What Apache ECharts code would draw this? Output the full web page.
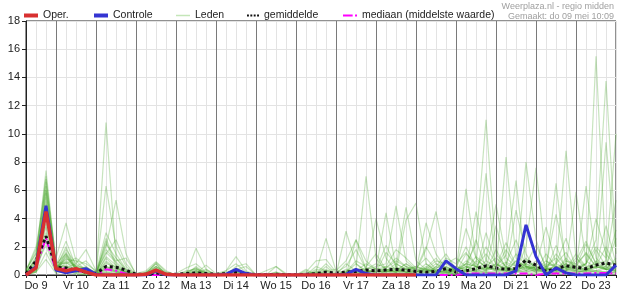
<!DOCTYPE html>
<html><head><meta charset="utf-8">
<script src="https://cdn.jsdelivr.net/npm/echarts@6/dist/echarts.min.js"></script>
<style>html,body{margin:0;padding:0;background:#fff}#c{width:626px;height:296px}</style>
</head><body><div id="c"></div>
<script>
const dayLabels = ['Do 9','Vr 10','Za 11','Zo 12','Ma 13','Di 14','Wo 15','Do 16','Vr 17','Za 18','Zo 19','Ma 20','Di 21','Wo 22','Do 23'];
const yTicks = [0,2,4,6,8,10,12,14,16,18];

// 6-hourly steps, index 0 = Do 9 06:00
const oper = [0,0.5,4.5, 0.45,0.3,0.45,0.2, 0,0,0,0, 0,0.05,0.35,0.05,
  0,0,0,0, 0,0,0,0, 0,0,0,0, 0,0,0,0,
  0,0,0,0, 0,0,0,0, 0];
const controle = [0,0.6,4.9, 0.35,0.15,0.3,0.45, 0.05,0,0,0, 0,0,0.3,0,
  0,0,0,0, 0,0.05,0.4,0.1, 0,0,0,0, 0,0,0,0,
  0,0.05,0.4,0.1, 0,0,0,0, 0,0,0,1.0, 0.45,0,0,0,
  0,0,0.3,3.55, 1.3,0,0.5,0.15, 0,0,0,0, 0.7];
const gemiddelde = [0.1,1.0,2.75, 0.55,0.5,0.35,0.2, 0.1,0.6,0.55,0.35, 0.05,0.05,0.15,0.05,
  0.05,0.1,0.15,0.1, 0.05,0.1,0.2,0.1, 0.02,0.02,0.05,0.02, 0.02,0.05,0.1,0.2,
  0.15,0.2,0.25,0.35, 0.3,0.35,0.4,0.35, 0.25,0.2,0.25,0.45, 0.2,0.3,0.45,0.65,
  0.5,0.4,0.45,1.05, 0.7,0.25,0.45,0.65, 0.55,0.45,0.7,0.85, 0.7];
const mediaan = [0,0.6,2.6, 0.3,0.5,0.3,0.2, 0,0.4,0.3,0.1, 0,0,0,0,
  0,0,0,0, 0,0,0,0, 0,0,0,0, 0,0,0,0,
  0,0,0,0, 0,0,0,0, 0,0,0,0, 0,0.1,0.1,0.1,
  0.1,0.1,0.1,0.1, 0,0.1,0.1,0.1, 0.1,0.1,0.15,0.15, 0.1];

const m01 = [0.1,1.2,7.4, 0.8,1.5,0.4,0.2, 0.1,10.8,1.2,0.3, 0,0,0.2,0,
  0,0,0.3,0, 0,0,0,0, 0,0,0,0, 0,0,0,0.2,
  0,0.4,0.2,0, 0,0.3,0.8,0.4, 0,0,0.6,1.5, 0.4,0.8,2.2,11.0,
  1.5,0.6,0.2,0.8, 2.1,0.6,0.3,1.2, 0.5,0.3,1.8,0.6, 0.2];
const m02 = [0.3,2.0,6.3, 1.2,3.7,1.0,0.3, 0.2,6.3,2.0,0.6, 0,0.1,0.9,0.2,
  0,0.2,0.5,0.1, 0,0.1,0.4,0, 0,0,0,0, 0,0,0.3,0.1,
  0,0,0.5,7.0, 1.2,0.3,0,0.5, 0.2,0.8,0.3,0, 0.5,2.0,0.6,0.3,
  1.8,0.5,0.2,8.0, 2.5,0.4,0.6,0.3, 1.0,2.4,0.8,0.4, 1.2];
const m03 = [0,0.5,5.8, 0.6,1.8,0.8,1.8, 0.3,2.0,5.3,1.5, 0,0,0.6,0.1,
  0,0,1.9,0.4, 0,0.3,1.3,0.3, 0,0,0.2,0, 0,0,0,0.4,
  0,3.1,0.8,0.2, 0,0.5,1.2,0.6, 0.3,0,0.2,0.6, 0.2,6.1,1.2,0.5,
  0.3,0.8,2.5,0.6, 0.2,1.5,0.6,8.8, 1.2,0.4,0.6,2.0, 0.5];
const m04 = [0.2,0.8,4.6, 0.3,1.2,0.6,0.5, 0.2,3.0,1.5,0.4, 0,0.2,0.8,0,
  0.1,0.5,0.8,0.2, 0,0,0.6,0.8, 0,0.3,0.6,0.1, 0,0.1,0.2,2.6,
  0.3,1.0,2.5,1.0, 0.4,4.4,0.5,0.2, 0,0.5,1.2,0.3, 0,0.4,0.3,1.0,
  5.0,1.2,0.6,0.4, 0.6,0.3,6.5,0.5, 0.2,0.3,1.0,0.4, 0.3];
const m05 = [0,0.3,3.9, 0.5,2.0,0.3,0.6, 0,2.6,0.8,0.2, 0,0,0.5,0,
  0,0,0.2,0, 0,0,0.3,0, 0,0,0,0, 0,0.2,1.0,1.1,
  0.2,0.6,1.8,0.4, 4.0,1.2,0.3,0.8, 0.3,1.8,4.5,1.0, 0.2,1.5,0.8,7.2,
  0.4,0.2,1.0,0.6, 0.3,0.5,0.2,0.6, 5.9,1.0,0.5,0.8, 0.3];
const m06 = [0.4,1.5,7.0, 0.9,0.8,1.2,0.6, 0.1,2.4,0.6,0.1, 0,0,0.3,0,
  0,0,0.1,0.7, 0.1,0.3,0.8,0.2, 0,0,0,0, 0,0,0.6,0.3,
  0,0.2,0,0.4, 0.6,0.8,4.9,1.0, 0.4,0.2,0.5,0.8, 0.3,0.2,1.0,0.6,
  0.4,8.35,1.2,0.3, 0.8,0.4,1.5,0.6, 0.3,0.8,2.5,13.75, 2.0];
const m07 = [0,0.6,6.6, 0.5,1.0,0.6,1.0, 0.2,1.5,2.5,0.8, 0,0.1,0.6,0.2,
  0,0.3,0.4,0.2, 0,0,0.2,0, 0,0,0.6,0, 0,0,0.1,0.8,
  0.1,0,2.5,0.4, 0.2,0.3,0.6,4.8, 1.0,0.4,0.2,0.3, 0.6,0.3,4.5,1.0,
  0.6,1.4,6.7,0.5, 0.4,0.2,0.8,1.6, 0.4,6.3,1.2,0.5, 0.6];
const m08 = [0.1,0.2,2.8, 0.3,0.6,0.2,0.4, 0.1,1.8,1.0,1.2, 0.1,0.3,0.95,0.3,
  0,0,0.6,0.1, 0,0,0,0.2, 0,0,0,0, 0,0.4,0,0,
  0,0.2,1.0,0.6, 1.5,0.4,0.2,3.9, 5.1,0.8,0.3,0.2, 0,0.3,0.6,0.4,
  0.8,0.5,0.3,2.0, 7.6,1.0,0.5,0.3, 0.8,0.3,0.5,9.4, 1.5];
const m09 = [0.2,1.0,5.2, 0.4,1.5,0.5,0.3, 0,2.2,1.2,0.4, 0,0,0.4,0,
  0,0.2,0.5,0, 0,0,0.3,0, 0,0,0.2,0, 0,0.3,0,0.6,
  0,0.8,0.3,0.5, 0.4,2.1,0.6,0.2, 0.3,3.7,1.5,0.4, 0.2,0.8,0.6,1.5,
  0.5,1.8,0.6,0.3, 0.6,3.4,0.8,0.5, 0.6,0.8,15.5,0.8, 0.4];
const m10 = [0,0.4,3.4, 0.2,1.4,0.4,0.2, 0.1,1.2,0.5,0.2, 0,0.1,0.3,0,
  0,0,0,0.3, 0,0.2,0.4,0.6, 0,0,0,0, 0,0,0.4,0.3,
  0.4,0,0.3,0.8, 0.4,0.6,1.8,1.2, 0.5,0.4,1.0,0.8, 1.2,0.6,0.4,2.0,
  0.8,0.3,1.5,0.7, 0.3,0.6,0.8,2.6, 0.5,0.8,2.0,1.2, 10.0];
const m11 = [0.1,0.7,2.1, 0.2,0.5,0.8,0.3, 0,0.8,0.6,0.1, 0,0,0.2,0,
  0,0,0.2,0, 0,0,0,0, 0,0,0,0, 0,0,0,0,
  0,0.2,0.8,0.3, 0.2,1.6,0.8,0.4, 0.6,0.3,0.4,1.2, 0.8,1.6,0.5,0.6,
  1.2,0.6,0.3,0.6, 0.5,0.6,1.2,0.4, 1.5,0.6,0.8,1.0, 5.3];
const m12 = [0.3,1.8,4.1, 0.6,1.1,1.0,0.8, 0.3,0.6,0.4,0.2, 0,0,0.4,0.1,
  0,0,0.3,0, 0,0,0.5,0, 0,0,0,0, 0,0,0,0,
  0,0,0.2,0.4, 0.8,0.5,1.0,0.6, 0.2,0.6,0.3,0.5, 0.4,3.3,1.2,0.5,
  0.6,2.3,0.7,0.5, 1.0,0.6,4.3,1.0, 0.6,1.6,0.6,3.5, 0.8];
const m13 = [0,0.3,6.0, 0.7,0.6,0.3,0.2, 0,0.5,0.3,0, 0,0,0.2,0,
  0,0,0,0, 0,0,0,0, 0,0,0,0, 0,0,0,0,
  0,0,0,0.3, 0.2,0.6,0.4,0.2, 0.3,0.2,0.6,0.3, 0.4,0.5,0.8,0.4,
  3.5,0.8,0.4,1.2, 0.4,0.5,0.3,0.6, 0.3,0.8,4.0,1.5, 0.6];
const m14 = [0.1,1.3,5.5, 0.4,0.4,0.2,0.1, 0,1.0,0.5,0.2, 0,0,0.1,0,
  0,0,0,0, 0,0,0.2,0, 0,0,0,0, 0,0,0,0,
  0,0,0.1,0.2, 0.3,0.2,0.5,0.3, 0.5,1.2,0.4,0.2, 0.3,0.6,0.4,0.3,
  0.8,0.4,4.6,1.5, 0.3,0.8,0.6,0.4, 1.2,0.6,0.5,0.6, 3.2];
const m15 = [0,0.2,1.6, 0.2,0.9,0.3,0.2, 0,0.6,0.2,0.1, 0,0,0,0,
  0,0,0,0, 0,0,0,0, 0,0,0,0, 0,0,0,0,
  0,0,0,0, 0,0.2,0.3,0.1, 0.2,0.4,0.2,0.1, 0,0.3,0.2,0.6,
  0.4,0.3,0.2,0.5, 0.2,0.4,0.3,0.6, 0.4,0.3,0.6,0.4, 0.6];
const m16 = [0.2,0.9,4.9, 0.5,0.7,0.3,0.4, 0.1,0.4,0.3,0, 0,0,0.3,0,
  0,0,0,0, 0,0,0,0, 0,0,0,0, 0,0,0.2,0,
  0,0,0,0, 0,0.3,0.2,0.4, 0.2,0.5,0.2,0.3, 0.2,0.4,2.5,0.5,
  0.3,0.6,0.3,0.2, 0.4,0.3,2.1,0.4, 0.3,0.4,0.2,0.5, 1.0];
const m17 = [0,0.5,3.0, 0.3,0.2,0.1,0, 0,0.3,0.2,0, 0,0,0,0,
  0,0,0,0, 0,0,0,0, 0,0,0,0, 0,0,0,0,
  0,0,0,0, 0,0.1,0.2,0.2, 0,0.2,0.3,0.2, 0.2,0.3,0.3,0.2,
  0.2,0.4,0.3,0.2, 0.2,0.2,0.3,0.2, 0.2,0.3,0.3,0.2, 0.2];
const m18 = [0.1,0.3,2.4, 0.3,0.3,0.2,0.1, 0,0.2,0.1,0, 0,0,0.5,0,
  0,0,0,0, 0,0,0,0, 0,0,0,0, 0,0,0,0,
  0,0,0,0, 0,0,0.1,0, 0,0,0.1,0.2, 0.1,0.1,0.2,0.1,
  0,0.2,0.3,0.8, 0.4,0.2,0.1,0.2, 0.2,0.3,0.2,0.1, 0.2];
const m19 = [0.1,0.6,3.6, 0.4,1.6,0.6,0.2, 0.1,0.9,0.4,0.1, 0,0,0.2,0,
  0,0,0.1,0.4, 0,0,0.2,0, 0,0,0,0.1, 0,0,0.1,0,
  0,0.1,0.2,0.1, 0.2,0.4,0.3,0.8, 0.4,2.0,0.8,0.3, 0.6,0.4,1.3,0.8,
  0.3,0.5,0.4,1.0, 0.6,0.4,0.3,0.8, 0.6,2.2,0.8,0.4, 0.4];
const m20 = [0.2,1.1,4.4, 0.6,0.9,0.5,0.3, 0,1.3,0.7,0.2, 0,0.1,0.8,0,
  0,0.1,0.3,0, 0,0,0,0, 0,0,0,0, 0,0,0,0.3,
  0,0.3,0.4,0.2, 0.3,0.4,0.2,0.6, 0.4,0.3,0.8,0.5, 0.3,0.6,0.2,3.0,
  0.8,0.3,1.0,0.6, 0.5,0.4,0.6,0.8, 0.4,0.5,0.3,0.6, 2.6];
const m21 = [0,0.4,5.0, 0.4,1.3,0.4,0.1, 0,0.6,0.3,0.1, 0,0,0.2,0,
  0,0,0,0, 0,0,0,0, 0,0,0,0, 0,0,0,0,
  0,0,0,0.2, 0.3,0.2,0.4,0.2, 0.2,0.3,0.2,0.4, 0.3,0.8,0.6,0.3,
  0.5,0.3,0.4,0.6, 0.4,1.0,0.6,0.3, 0.5,0.4,0.6,0.4, 0.3];
const m22 = [0.1,0.8,6.8, 0.5,0.6,0.3,0.2, 0,0.4,0.2,0, 0,0,0.1,0,
  0,0,0,0, 0,0,0,0, 0,0,0,0, 0,0,0,0,
  0,0,0,0, 0,0,0.1,0.1, 0.1,0.2,0.1,0.2, 0.2,0.2,0.3,0.2,
  0.2,0.2,0.3,0.3, 0.3,0.2,0.2,0.3, 0.3,0.2,0.3,0.2, 0.3];
const m23 = [0,0.2,1.1, 0.1,0.3,0.1,0, 0,0.2,0.1,0, 0,0,0,0,
  0,0,0,0, 0,0,0,0, 0,0,0,0, 0,0,0,0,
  0,0,0,0, 0,0,0,0, 0,0,0,0.1, 0.1,0.1,0.1,0.2,
  0.1,0.1,0.2,0.1, 0.1,0.1,0.2,0.1, 0.1,0.2,0.1,0.2, 0.1];
const m24 = [0.3,1.6,6.0, 0.7,2.4,0.6,0.5, 0.2,1.6,0.9,0.3, 0,0.2,0.6,0.1,
  0,0.1,0.4,0.1, 0,0,0.3,0.1, 0,0,0.1,0, 0,0,0.2,0,
  0,0.2,0.3,0.2, 0.5,0.3,0.2,0.4, 0.6,0.4,0.2,0.6, 0.3,1.0,0.6,0.4,
  0.6,0.9,0.6,0.8, 0.6,0.3,0.4,1.0, 0.8,1.5,0.6,0.4, 0.6];
const leden = [m01,m02,m03,m04,m05,m06,m07,m08,m09,m10,m11,m12,m13,m14,m15,m16,m17,m18,m19,m20,m21,m22,m23,m24];

const nSteps = controle.length; // 60
leden.forEach((m,k)=>{ if (m.length !== nSteps) throw new Error('member '+(k+1)+' length '+m.length); });

const FONT = '"Liberation Sans", Arial, sans-serif';
const toXY = arr => arr.map((v,i)=>[i,v]);
// day boundaries (midnight) are every 4th step, starting at step 3
const midnights = dayLabels.slice(1).map((_,d)=>3+4*d);

const chart = echarts.init(document.getElementById('c'), null, {renderer:'canvas'});

const GREEN = 'rgb(70,165,40)';
const RED = '#d83030', BLUE = '#3434d2', MAGENTA = '#ff00ff', BLACK = '#111';
const series = [];
series.push({type:'line', data:[], silent:true, z:1,
  markLine:{silent:true, animation:false, symbol:['none','none'], label:{show:false},
    lineStyle:{color:'#7a7a7a', width:1, type:'solid'},
    emphasis:{disabled:true},
    data: midnights.map(x=>({xAxis:x}))}});
leden.forEach(m=>series.push({name:'Leden', type:'line', data:toXY(m), symbol:'none', silent:true, z:2,
  lineStyle:{color:GREEN, width:1.2, opacity:0.3}, itemStyle:{color:GREEN}}));
series.push({name:'mediaan (middelste waarde)', type:'line', data:toXY(mediaan), symbol:'none', silent:true, z:3,
  lineStyle:{color:MAGENTA, width:2, type:[8,3,2,3]}, itemStyle:{color:MAGENTA}});
series.push({name:'gemiddelde', type:'line', data:toXY(gemiddelde), symbol:'none', silent:true, z:4,
  lineStyle:{color:BLACK, width:3, type:[3,3]}, itemStyle:{color:BLACK}});
series.push({name:'Controle', type:'line', data:toXY(controle), symbol:'none', silent:true, z:5,
  lineStyle:{color:BLUE, width:3}, itemStyle:{color:BLUE}});
series.push({name:'Oper.', type:'line', data:toXY(oper), symbol:'none', silent:true, z:6,
  lineStyle:{color:RED, width:3.5}, itemStyle:{color:RED}});

const legendCommon = {top:10, itemGap:5, selectedMode:false, padding:0,
  textStyle:{fontSize:10.5, color:'#222', fontFamily:FONT}};
const legendItems = [
  {name:'Oper.', left:24, w:14, h:4, icon:'rect', color:RED},
  {name:'Controle', left:94, w:14, h:4, icon:'rect', color:BLUE},
  {name:'Leden', left:176, w:14, h:1.5, icon:'rect', color:'#c4e6b8'},
  {name:'gemiddelde', left:247, w:12, h:3, icon:'path://M0,0h2v2h-2zM3.5,0h2v2h-2zM7,0h2v2h-2zM10.5,0h2v2h-2z', color:BLACK},
  {name:'mediaan (middelste waarde)', left:343, w:14, h:2.5, icon:'path://M0,0h10v2h-10zM12.5,0h2v2h-2z', color:MAGENTA}
];

chart.setOption({
  animation:false,
  backgroundColor:'#fff',
  textStyle:{fontFamily:FONT},
  grid:{left:26, right:10, top:21, bottom:21, show:true, borderColor:'#222', borderWidth:1, backgroundColor:'transparent'},
  legend: legendItems.map(it=>Object.assign({
    left:it.left, itemWidth:it.w, itemHeight:it.h,
    data:[{name:it.name, icon:it.icon, itemStyle:{color:it.color, borderWidth:0}}]}, legendCommon)),
  graphic:[
    {type:'text', right:12, top:2, style:{text:'Weerplaza.nl - regio midden', fill:'#a0a0a0', font:'9px '+FONT}},
    {type:'text', right:12, top:12, style:{text:'Gemaakt: do 09 mei 10:09', fill:'#a0a0a0', font:'9px '+FONT}}
  ],
  xAxis:{type:'value', min:0, max:nSteps-1, interval:1,
    axisLine:{show:true, onZero:false, lineStyle:{color:'#222'}},
    axisTick:{show:true, length:3, lineStyle:{color:'#222'}},
    axisLabel:{fontSize:11, color:'#222', margin:5, fontFamily:FONT, hideOverlap:false, showMinLabel:true, showMaxLabel:true,
      formatter: v => ((v-1)%4===0 && v>=1 && (v-1)/4 < dayLabels.length) ? dayLabels[(v-1)/4] : ''},
    splitLine:{show:true, lineStyle:{color:'#e3e3e3', width:1}}},
  yAxis:{type:'value', min:yTicks[0], max:yTicks[yTicks.length-1], interval:yTicks[1]-yTicks[0],
    axisLine:{show:true, lineStyle:{color:'#222'}},
    axisTick:{show:true, length:4, lineStyle:{color:'#222'}},
    axisLabel:{fontSize:11, color:'#222', margin:6, fontFamily:FONT},
    splitLine:{show:true, lineStyle:{color:'#e3e3e3', width:1}}},
  series: series
});
</script></body></html>
